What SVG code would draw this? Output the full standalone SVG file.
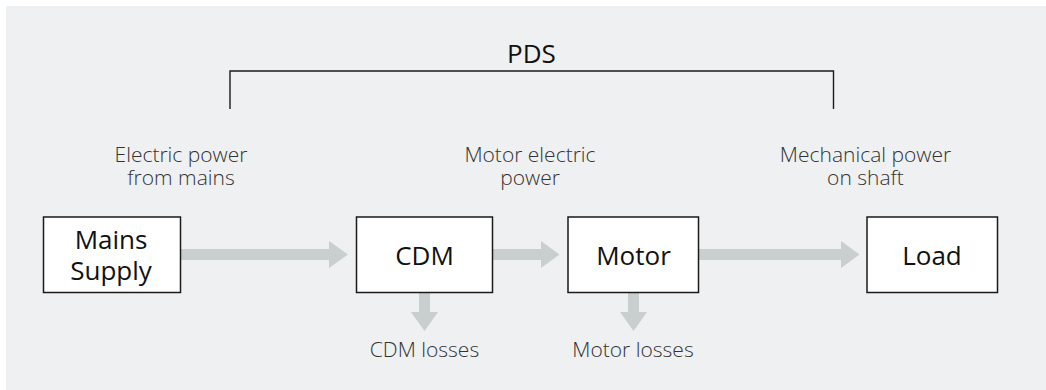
<svg xmlns="http://www.w3.org/2000/svg" width="1046" height="390" viewBox="0 0 1046 390">
<style>
.box{fill:#ffffff;stroke:#1a1a1a;stroke-width:1.5}
.bt{font-family:"Open Sans","Liberation Sans",sans-serif;font-size:26px;fill:#111;text-anchor:middle}
.lb{font-family:"Open Sans","Liberation Sans",sans-serif;font-weight:300;font-size:21px;fill:#333;text-anchor:middle}
.ar{fill:#c9cecf}
</style>
<rect x="6" y="6" width="1040" height="384" fill="#eff0f2"/>
<g id="pds">
<path d="M230,109 V71 H833.5 V109" fill="none" stroke="#1a1a1a" stroke-width="1.4"/>
<text x="531.5" y="63" font-family="'Open Sans','Liberation Sans',sans-serif" font-size="26" fill="#111" text-anchor="middle">PDS</text>
</g>
<g id="connectors">
<polygon class="ar" points="180,249 329,249 329,241 348,254.5 329,268 329,260 180,260"/>
<polygon class="ar" points="493,249 541,249 541,241 559.5,254.5 541,268 541,260 493,260"/>
<polygon class="ar" points="698,249 841,249 841,241 859.5,254.5 841,268 841,260 698,260"/>
<polygon class="ar" points="419,292.5 430,292.5 430,312 438,312 424.5,331 411,312 419,312"/>
<polygon class="ar" points="628,292.5 639,292.5 639,312 647,312 633.5,331 620,312 628,312"/>
</g>
<g id="mains">
<rect class="box" x="43.5" y="217" width="137" height="75.5"/>
<text class="bt"><tspan x="111" y="248.5">Mains</tspan><tspan x="111" y="280">Supply</tspan></text>
</g>
<g id="cdm">
<rect class="box" x="356.5" y="217" width="136" height="75.5"/>
<text class="bt" x="424.5" y="265">CDM</text>
</g>
<g id="motor">
<rect class="box" x="568" y="217" width="130.5" height="75.5"/>
<text class="bt" x="633.5" y="265">Motor</text>
</g>
<g id="load">
<rect class="box" x="867" y="217" width="130.5" height="75.5"/>
<text class="bt" x="932" y="265">Load</text>
</g>
<g id="labels">
<text class="lb"><tspan x="181" y="162">Electric power</tspan><tspan x="181" y="185">from mains</tspan></text>
<text class="lb"><tspan x="530" y="162">Motor electric</tspan><tspan x="530" y="185">power</tspan></text>
<text class="lb"><tspan x="865.5" y="162">Mechanical power</tspan><tspan x="865.5" y="185">on shaft</tspan></text>
<text class="lb" x="424.5" y="357">CDM losses</text>
<text class="lb" x="633" y="357">Motor losses</text>
</g>
</svg>
